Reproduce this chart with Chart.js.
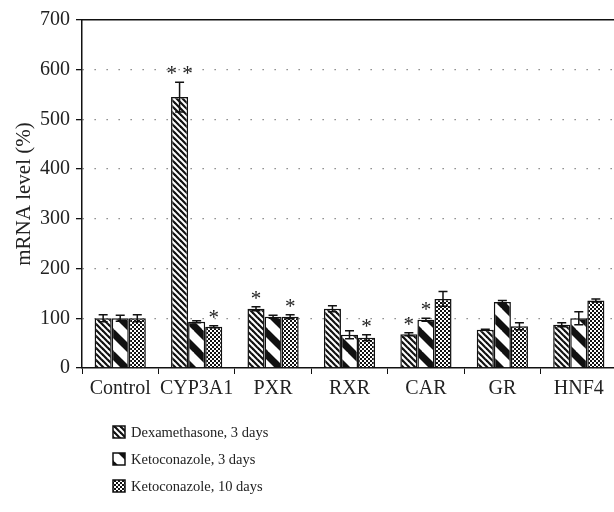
<!DOCTYPE html>
<html>
<head>
<meta charset="utf-8">
<script src="https://cdn.jsdelivr.net/npm/chart.js@4.4.0/dist/chart.umd.min.js"></script>
<style>
  html, body { margin: 0; padding: 0; background: #fff; overflow: hidden; }
  canvas { display: block; }
</style>
</head>
<body>
<canvas id="myChart" width="630" height="512"></canvas>
<script>
'use strict';

//***********Data***********
let genes = ['Control', 'CYP3A1', 'PXR', 'RXR', 'CAR', 'GR', 'HNF4'];
let seriesNames = ['Dexamethasone, 3 days', 'Ketoconazole, 3 days', 'Ketoconazole, 10 days'];
let dexValues = [100, 545, 119, 119, 68, 77, 87];
let keto3Values = [100, 93, 103, 67, 97, 133, 100];
let keto10Values = [100, 83, 103, 61, 139, 84, 136];
let dexErrors = [7, 30, 4, 6, 3, 1, 4];
let keto3Errors = [6, 2, 3, 8, 3, 3, 13];
let keto10Errors = [7, 2, 4, 6, 15, 7, 3];
let dexStars = ['', '* *', '*', '', '*', '', ''];
let keto3Stars = ['', '', '', '', '*', '', ''];
let keto10Stars = ['', '*', '*', '*', '', '', ''];
let yMin = 0;
let yMax = 700;
let yStep = 100;

let fontName = '"Liberation Serif", "DejaVu Serif", serif';

//***********Pattern helpers***********
function makeStripes(size, lineW) {
  let c = document.createElement('canvas');
  c.width = size;
  c.height = size;
  let g = c.getContext('2d');
  g.fillStyle = '#fff';
  g.fillRect(0, 0, size, size);
  g.strokeStyle = '#111';
  g.lineWidth = lineW;
  for (let k = -1; k <= 1; k++) {
    g.beginPath();
    g.moveTo(k * size - 2, -2);
    g.lineTo(k * size + size + 2, size + 2);
    g.stroke();
  }
  return g.createPattern(c, 'repeat');
}

function makeChecker() {
  let c = document.createElement('canvas');
  c.width = 4;
  c.height = 4;
  let g = c.getContext('2d');
  g.fillStyle = '#111';
  g.fillRect(0, 0, 4, 4);
  g.fillStyle = '#fff';
  g.fillRect(0, 0, 2, 2);
  g.fillRect(2, 2, 2, 2);
  return g.createPattern(c, 'repeat');
}

let patterns = [makeStripes(6, 2.2), makeStripes(22, 7), makeChecker()];
let errorSets = [dexErrors, keto3Errors, keto10Errors];
let starSets = [dexStars, keto3Stars, keto10Stars];

//***********Plugins***********
let errorBarPlugin = {
  id: 'errorBars',
  afterDatasetsDraw(chart) {
    let ctx = chart.ctx;
    let yScale = chart.scales.y;
    ctx.save();
    ctx.strokeStyle = '#111';
    ctx.lineWidth = 1.5;
    chart.data.datasets.forEach(function (ds, i) {
      let meta = chart.getDatasetMeta(i);
      meta.data.forEach(function (bar, j) {
        let v = ds.data[j];
        let e = errorSets[i][j];
        let yTop = yScale.getPixelForValue(v + e);
        let yBot = yScale.getPixelForValue(v - e);
        let x = bar.x;
        ctx.beginPath();
        ctx.moveTo(x, yTop);
        ctx.lineTo(x, yBot);
        ctx.moveTo(x - 4.5, yTop);
        ctx.lineTo(x + 4.5, yTop);
        ctx.moveTo(x - 4.5, yBot);
        ctx.lineTo(x + 4.5, yBot);
        ctx.stroke();

        let star = starSets[i][j];
        if (star) {
          ctx.fillStyle = '#222';
          ctx.font = '21px ' + fontName;
          ctx.textAlign = 'center';
          ctx.textBaseline = 'alphabetic';
          ctx.fillText(star, x, yTop - 2);
        }
      });
    });
    ctx.restore();
  }
};

let legendPlugin = {
  id: 'sideLegend',
  afterDraw(chart) {
    let ctx = chart.ctx;
    ctx.save();
    seriesNames.forEach(function (name, i) {
      let y = 432 + i * 27;
      ctx.fillStyle = patterns[i];
      ctx.fillRect(113, y - 6, 12, 12);
      ctx.strokeStyle = '#111';
      ctx.lineWidth = 1.5;
      ctx.strokeRect(113, y - 6, 12, 12);
      ctx.fillStyle = '#222';
      ctx.font = '14.5px ' + fontName;
      ctx.textAlign = 'left';
      ctx.textBaseline = 'middle';
      ctx.fillText(name, 131, y + 1);
    });
    ctx.restore();
  }
};

//***********Chart***********
let ctx = document.getElementById('myChart').getContext('2d');

let myChartObj = {
  type: 'bar',
  data: {
    labels: genes,
    datasets: [
      { label: seriesNames[0], data: dexValues, backgroundColor: patterns[0] },
      { label: seriesNames[1], data: keto3Values, backgroundColor: patterns[1] },
      { label: seriesNames[2], data: keto10Values, backgroundColor: patterns[2] }
    ]
  },
  options: {
    responsive: false,
    animation: false,
    maintainAspectRatio: false,
    layout: { padding: { top: 20, right: 13, left: 0, bottom: 0 } },
    datasets: {
      bar: {
        borderColor: '#111',
        borderWidth: 1.5,
        categoryPercentage: 0.67,
        barPercentage: 1.0
      }
    },
    plugins: {
      legend: { display: false },
      tooltip: { enabled: false }
    },
    scales: {
      x: {
        position: 'bottom',
        grid: {
          display: true,
          drawOnChartArea: false,
          drawTicks: true,
          tickLength: 6,
          tickColor: '#111',
          offset: true
        },
        border: { display: true, color: '#111', width: 1.5 },
        ticks: {
          color: '#222',
          padding: 3,
          maxRotation: 0,
          font: { family: fontName, size: 20 }
        },
        afterFit: function (scale) { scale.height = 144; }
      },
      xTop: {
        position: 'top',
        labels: genes,
        grid: { display: false, drawTicks: false },
        border: { display: true, color: '#111', width: 1.5 },
        ticks: { display: false },
        afterFit: function (scale) { scale.height = 0; }
      },
      y: {
        min: yMin,
        max: yMax,
        ticks: {
          stepSize: yStep,
          color: '#222',
          padding: 6,
          font: { family: fontName, size: 20 }
        },
        grid: {
          color: function (c) {
            return (c.tick.value === yMin || c.tick.value === yMax) ? 'rgba(0,0,0,0)' : '#777';
          },
          lineWidth: 1.3,
          drawTicks: true,
          tickLength: 6,
          tickColor: '#111'
        },
        border: { display: true, color: '#111', width: 1.5, dash: [1.3, 10.7] },
        title: {
          display: true,
          text: 'mRNA level (%)',
          color: '#222',
          padding: { top: 12, bottom: 0 },
          font: { family: fontName, size: 21 }
        },
        afterFit: function (scale) { scale.width = 82; }
      }
    }
  },
  plugins: [errorBarPlugin, legendPlugin]
};

new Chart(ctx, myChartObj);
</script>
</body>
</html>
